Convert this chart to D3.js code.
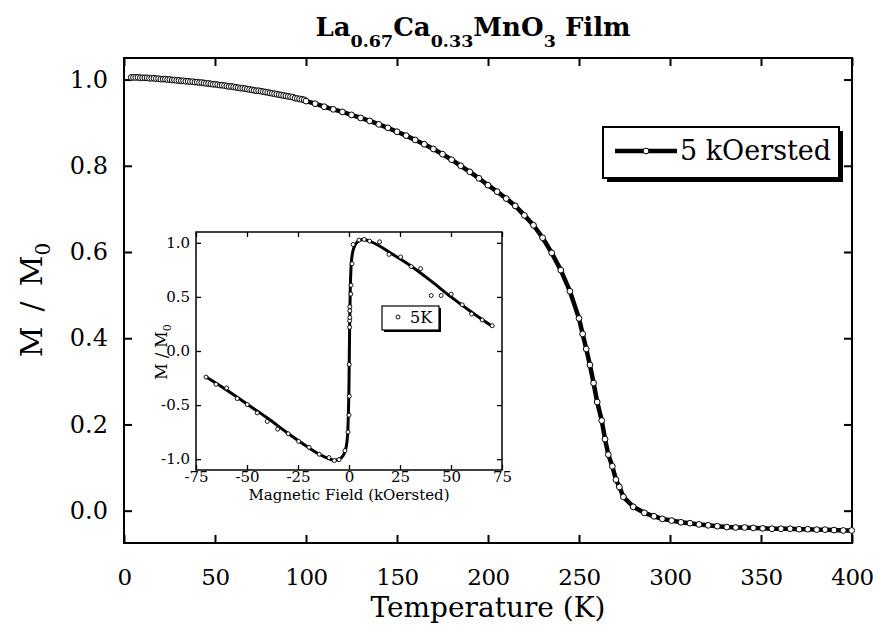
<!DOCTYPE html>
<html>
<head>
<meta charset="utf-8">
<script src="https://cdn.jsdelivr.net/npm/d3@7"></script>
<style>
  body { margin: 0; background: #fff; }
  svg { display: block; }
  text { font-family: "DejaVu Serif", serif; fill: #000; }
</style>
</head>
<body>
<svg id="chart" width="873" height="631"></svg>
<script>
// Magnetization vs temperature, 5 kOe field (dense low-T sweep)
const lowTemps = [4,5.25,6.5,7.75,9,10.25,11.5,12.75,14,15.25,16.5,17.75,19,20.25,21.5,22.75,24,25.25,26.5,27.75,29,30.25,31.5,32.75,34,35.25,36.5,37.75,39,40.25,41.5,42.75,44,45.25,46.5,47.75,49,50.25,51.5,52.75,54,55.25,56.5,57.75,59,60.25,61.5,62.75,64,65.25,66.5,67.75,69,70.25,71.5,72.75,74,75.25,76.5,77.75,79,80.25,81.5,82.75,84,85.25,86.5,87.75,89,90.25,91.5,92.75,94,95.25,96.5,97.75,99];
const lowM = [1.005,1.005,1.005,1.005,1.004,1.004,1.004,1.004,1.003,1.003,1.003,1.002,1.002,1.001,1.001,1.001,1.000,1.000,0.999,0.999,0.998,0.998,0.997,0.997,0.996,0.996,0.995,0.995,0.994,0.994,0.993,0.993,0.992,0.991,0.991,0.990,0.989,0.989,0.988,0.987,0.987,0.986,0.985,0.984,0.984,0.983,0.982,0.981,0.980,0.980,0.979,0.978,0.977,0.976,0.975,0.974,0.974,0.973,0.972,0.971,0.970,0.969,0.968,0.967,0.966,0.965,0.964,0.963,0.962,0.961,0.960,0.959,0.957,0.956,0.955,0.954,0.953];

// Higher-temperature sweep through the transition
const highTemps = [100,105,110,115,120,125,130,135,140,145,150,155,160,165,170,175,180,185,190,195,200,205,210,215,220,225,230,235,240,245,250,252,254,256,258,260,262.5,264.3,266.1,268.3,270.3,272.2,274.4,279.8,285.9,291.2,295.8,300.9,306,311,315.9,321,326,331.2,336.1,341,345.8,350.9,356,361,366,370.9,375.7,380.6,385.2,390.1,395.2,399.8];
const highM = [0.950,0.944,0.937,0.931,0.925,0.918,0.911,0.904,0.896,0.888,0.879,0.870,0.860,0.850,0.839,0.827,0.814,0.800,0.786,0.771,0.755,0.740,0.724,0.707,0.685,0.662,0.633,0.598,0.558,0.509,0.446,0.410,0.375,0.338,0.296,0.252,0.209,0.166,0.130,0.103,0.072,0.055,0.032,0.009,-0.005,-0.013,-0.019,-0.023,-0.027,-0.029,-0.032,-0.034,-0.036,-0.038,-0.039,-0.039,-0.040,-0.041,-0.042,-0.042,-0.042,-0.043,-0.043,-0.044,-0.044,-0.045,-0.046,-0.046];

const tempTicks = [0,50,100,150,200,250,300,350,400];
const mTicks = [0.0,0.2,0.4,0.6,0.8,1.0];

// Hysteresis at 5 K: measured points
const fieldPts = [-70.1,-65.2,-60.0,-54.8,-49.9,-45.0,-40.1,-35.0,-29.8,-24.7,-19.6,-14.6,-9.8,-7.2,-4.9,-2.0,-0.5,0.0,0.1,0.1,0.3,0.3,0.4,0.4,0.4,0.9,1.0,1.5,2.0,4.9,7.4,10.1,15.0,19.6,25.3,30.5,35.1,40.3,45.2,50.1,55.5,60.1,65.3,70.2];
const fieldM = [-0.241,-0.308,-0.342,-0.440,-0.495,-0.572,-0.651,-0.722,-0.765,-0.835,-0.890,-0.954,-0.985,-1.013,-1.004,-0.921,-0.749,-0.593,-0.418,-0.124,0.219,0.280,0.310,0.372,0.409,0.526,0.608,0.807,0.985,1.025,1.031,1.016,1.009,0.893,0.869,0.780,0.761,0.513,0.513,0.526,0.427,0.342,0.287,0.234];
// Smooth curve through the hysteresis data
const fitField = [-70,-60,-50,-40,-30,-20,-15,-10,-7,-5,-3,-2,-1,-0.5,0,0.3,0.6,1,1.5,2,3,5,7,10,15,20,30,40,50,60,70];
const fitM = [-0.24,-0.36,-0.49,-0.62,-0.76,-0.89,-0.95,-0.995,-1.01,-1.0,-0.97,-0.93,-0.84,-0.7,-0.3,0.2,0.55,0.78,0.88,0.93,0.98,1.02,1.03,1.015,0.97,0.91,0.79,0.65,0.50,0.36,0.23];

const fieldTicks = [-75,-50,-25,0,25,50,75];
const insetMTicks = [-1.0,-0.5,0.0,0.5,1.0];

const svg = d3.select("#chart");

// ---------- main panel ----------
const L = 124, R = 852, T = 58, B = 543;
const x = d3.scaleLinear().domain([0, 400]).range([L, R]);
const y = d3.scaleLinear().domain([-0.075, 1.05]).range([B, T]);

const fmt1 = d => d.toFixed(1);

svg.append("g").attr("transform", `translate(0,${B})`)
  .call(d3.axisBottom(x).tickValues(tempTicks).tickFormat(d3.format("d"))
    .tickSizeInner(-8).tickSizeOuter(0).tickPadding(26))
  .call(g => g.selectAll("text").attr("font-size", 23).attr("letter-spacing", -0.5)
    .style("font-family", "DejaVu Serif"));
svg.append("g").attr("transform", `translate(0,${T})`)
  .call(d3.axisTop(x).tickValues(tempTicks).tickFormat("").tickSizeInner(-8).tickSizeOuter(0));
svg.append("g").attr("transform", `translate(${L},0)`)
  .call(d3.axisLeft(y).tickValues(mTicks).tickFormat(fmt1)
    .tickSizeInner(-8).tickSizeOuter(0).tickPadding(16))
  .call(g => g.selectAll("text").attr("font-size", 24).style("font-family", "DejaVu Serif"));
svg.append("g").attr("transform", `translate(${R},0)`)
  .call(d3.axisRight(y).tickValues(mTicks).tickFormat("").tickSizeInner(-8).tickSizeOuter(0));
svg.selectAll(".domain").remove();
svg.selectAll(".tick line").attr("stroke", "#000").attr("stroke-width", 2);

svg.append("rect").attr("x", L).attr("y", T).attr("width", R - L).attr("height", B - T)
  .attr("fill", "none").attr("stroke", "#000").attr("stroke-width", 2);

const mainData = lowTemps.map((t, i) => [t, lowM[i]])
  .concat(highTemps.map((t, i) => [t, highM[i]]));

svg.append("path").datum(mainData)
  .attr("d", d3.line().x(d => x(d[0])).y(d => y(d[1])))
  .attr("fill", "none").attr("stroke", "#000").attr("stroke-width", 4.5)
  .attr("stroke-linejoin", "round");
svg.append("g").selectAll("circle").data(mainData).join("circle")
  .attr("cx", d => x(d[0])).attr("cy", d => y(d[1])).attr("r", 2.9)
  .attr("fill", "#fff").attr("stroke", "#000").attr("stroke-width", 1);

// axis titles
svg.append("text").attr("x", (L + R) / 2).attr("y", 617).attr("text-anchor", "middle")
  .attr("font-size", 28).text("Temperature (K)");
const yt = svg.append("text").attr("transform", "translate(42,300) rotate(-90)")
  .attr("text-anchor", "middle").attr("font-size", 30);
yt.append("tspan").text("M\u2002/\u2002M");
yt.append("tspan").attr("font-size", 20).attr("dy", 8).text("0");

// title
const title = svg.append("text").attr("x", 473).attr("y", 36).attr("text-anchor", "middle")
  .attr("font-size", 26).attr("font-weight", "bold");
title.append("tspan").text("La");
title.append("tspan").attr("font-size", 17.5).attr("dy", 11).text("0.67");
title.append("tspan").attr("dy", -11).text("Ca");
title.append("tspan").attr("font-size", 17.5).attr("dy", 11).text("0.33");
title.append("tspan").attr("dy", -11).text("MnO");
title.append("tspan").attr("font-size", 17.5).attr("dy", 11).text("3");
title.append("tspan").attr("dy", -11).text(" Film");

// legend
const lg = svg.append("g");
lg.append("rect").attr("x", 607).attr("y", 131).attr("width", 236).attr("height", 51).attr("fill", "#000");
lg.append("rect").attr("x", 603).attr("y", 127).attr("width", 236).attr("height", 51)
  .attr("fill", "#fff").attr("stroke", "#000").attr("stroke-width", 2);
lg.append("line").attr("x1", 615).attr("x2", 677).attr("y1", 151).attr("y2", 151)
  .attr("stroke", "#000").attr("stroke-width", 4.5);
lg.append("circle").attr("cx", 646).attr("cy", 151).attr("r", 2.9)
  .attr("fill", "#fff").attr("stroke", "#000");
lg.append("text").attr("x", 680).attr("y", 160).attr("font-size", 27).text("5 kOersted");

// ---------- inset ----------
const iL = 196, iR = 502, iT = 232, iB = 470;
const ix = d3.scaleLinear().domain([-75, 75]).range([iL, iR]);
const iy = d3.scaleLinear().domain([-1.1, 1.1]).range([iB, iT]);
const inset = svg.append("g");
inset.append("rect").attr("x", iL).attr("y", iT).attr("width", iR - iL).attr("height", iB - iT)
  .attr("fill", "#fff");

const fmtInt = d => String(d);
inset.append("g").attr("transform", `translate(0,${iB})`)
  .call(d3.axisBottom(ix).tickValues(fieldTicks).tickFormat(fmtInt)
    .tickSizeInner(-5).tickSizeOuter(0).tickPadding(1))
  .call(g => g.selectAll("text").attr("font-size", 15).style("font-family", "DejaVu Serif"));
inset.append("g").attr("transform", `translate(0,${iT})`)
  .call(d3.axisTop(ix).tickValues(fieldTicks).tickFormat("").tickSizeInner(-5).tickSizeOuter(0));
inset.append("g").attr("transform", `translate(${iL},0)`)
  .call(d3.axisLeft(iy).tickValues(insetMTicks).tickFormat(fmt1)
    .tickSizeInner(-5).tickSizeOuter(0).tickPadding(6))
  .call(g => g.selectAll("text").attr("font-size", 15).style("font-family", "DejaVu Serif"));
inset.append("g").attr("transform", `translate(${iR},0)`)
  .call(d3.axisRight(iy).tickValues(insetMTicks).tickFormat("").tickSizeInner(-5).tickSizeOuter(0));
inset.selectAll(".domain").remove();
inset.selectAll(".tick line").attr("stroke", "#000").attr("stroke-width", 1.3);
inset.append("rect").attr("x", iL).attr("y", iT).attr("width", iR - iL).attr("height", iB - iT)
  .attr("fill", "none").attr("stroke", "#000").attr("stroke-width", 1.5);

const fitData = fitField.map((h, i) => [h, fitM[i]]);
inset.append("path").datum(fitData)
  .attr("d", d3.line().x(d => ix(d[0])).y(d => iy(d[1])).curve(d3.curveMonotoneX))
  .attr("fill", "none").attr("stroke", "#000").attr("stroke-width", 3);
inset.append("g").selectAll("circle").data(fieldPts.map((h, i) => [h, fieldM[i]])).join("circle")
  .attr("cx", d => ix(d[0])).attr("cy", d => iy(d[1])).attr("r", 2)
  .attr("fill", "#fff").attr("stroke", "#000").attr("stroke-width", 0.9);

inset.append("text").attr("x", (iL + iR) / 2).attr("y", 500).attr("text-anchor", "middle")
  .attr("font-size", 15).text("Magnetic Field (kOersted)");
const iyt = inset.append("text").attr("transform", "translate(167,352) rotate(-90)")
  .attr("text-anchor", "middle").attr("font-size", 16);
iyt.append("tspan").text("M / M");
iyt.append("tspan").attr("font-size", 11).attr("dy", 4).text("0");

// inset legend
const il = inset.append("g");
il.append("rect").attr("x", 384).attr("y", 308).attr("width", 57).attr("height", 24).attr("fill", "#000");
il.append("rect").attr("x", 382).attr("y", 306).attr("width", 57).attr("height", 24)
  .attr("fill", "#fff").attr("stroke", "#000").attr("stroke-width", 1.2);
il.append("circle").attr("cx", 398).attr("cy", 317).attr("r", 2)
  .attr("fill", "#fff").attr("stroke", "#000").attr("stroke-width", 0.9);
il.append("text").attr("x", 410).attr("y", 323).attr("font-size", 16).text("5K");
</script>
</body>
</html>
